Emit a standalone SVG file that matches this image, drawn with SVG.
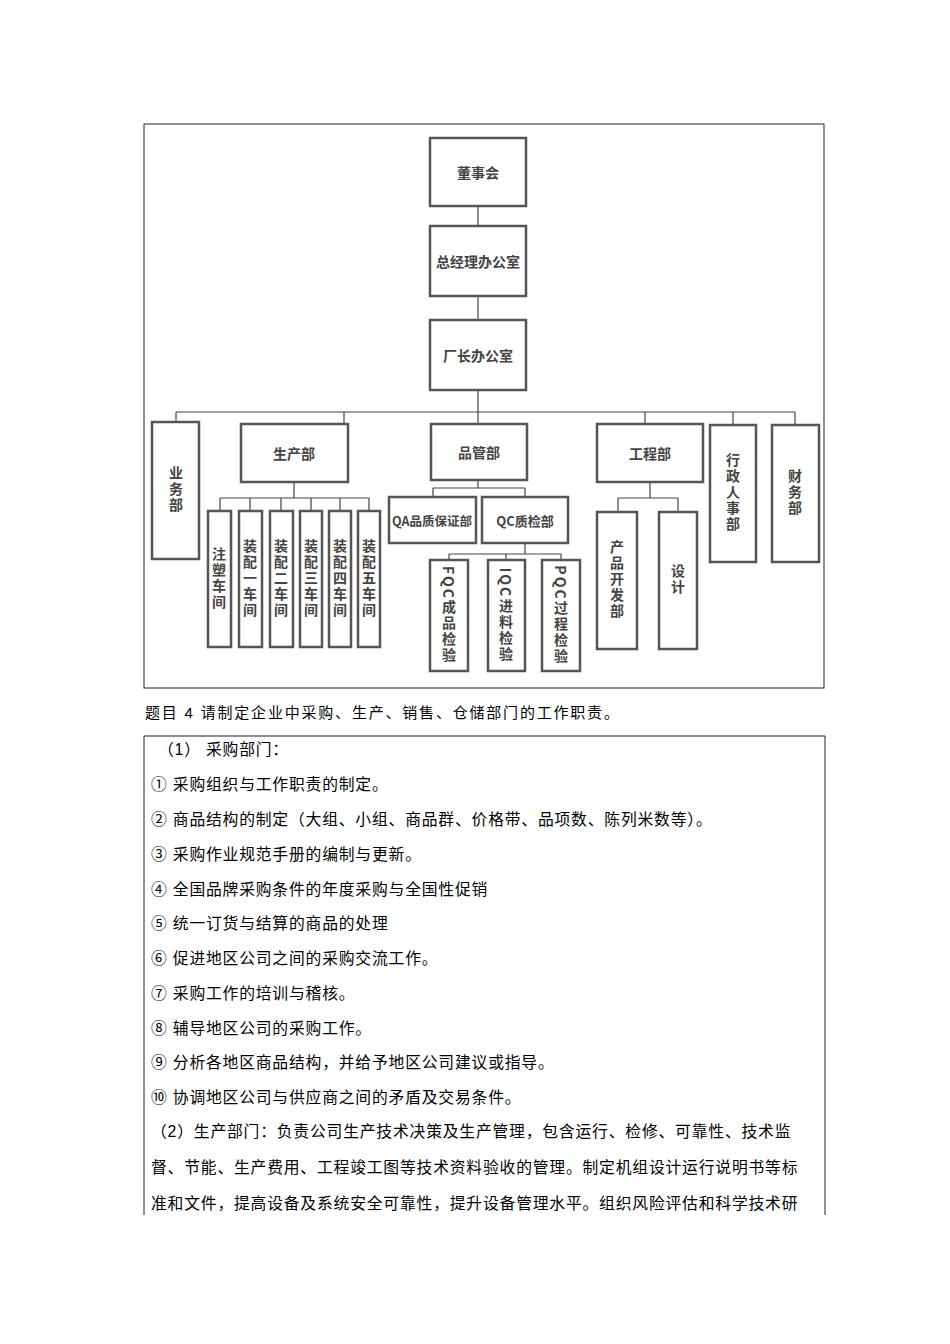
<svg xmlns="http://www.w3.org/2000/svg" width="950" height="1344" viewBox="0 0 950 1344">
<style>
.b{fill:#fff;stroke:#555;stroke-width:2.5}
.l{stroke:#444;stroke-width:1.2;fill:none}
.t{font-family:"Noto Sans CJK SC",sans-serif;font-size:14px;font-weight:bold;fill:#444;text-anchor:middle;dominant-baseline:central}
.v{writing-mode:vertical-rl;text-orientation:mixed;letter-spacing:2px}
.p{font-family:"Liberation Sans","Noto Sans CJK SC",sans-serif;font-size:15.8px;fill:#000;letter-spacing:0.8px}
</style>
<rect width="950" height="1344" fill="#fff"/>
<rect x="144" y="124" width="680" height="564" fill="none" stroke="#222" stroke-width="1"/>
<g id="connectors" class="l">
<path d="M478 206V226M478 296V320M478 390V412M176 412H795M176 412V422M344 412V424M478 412V424M645 412V424M733 412V425M795 412V425"/>
<path d="M294 482V498M220 498H369M220 498V511M250 498V511M281 498V511M311 498V511M340 498V511M369 498V511"/>
<path d="M478 480V488M433 488H525M433 488V497M525 488V497M525 543V554M449 554H561M449 554V560M506 554V560M561 554V560"/>
<path d="M650 482V498M618 498H678M618 498V512M678 498V512"/>
</g>
<g id="n1"><rect class="b" x="430" y="138" width="96" height="68"/><text class="t" x="478" y="172">董事会</text></g>
<g id="n2"><rect class="b" x="430" y="226" width="96" height="70"/><text class="t" x="478" y="261">总经理办公室</text></g>
<g id="n3"><rect class="b" x="430" y="320" width="96" height="70"/><text class="t" x="478" y="355">厂长办公室</text></g>
<g id="n4"><rect class="b" x="152" y="422" width="47" height="137"/><text class="t v" x="176" y="490">业务部</text></g>
<g id="n5"><rect class="b" x="241" y="424" width="107" height="58"/><text class="t" x="294" y="453">生产部</text></g>
<g id="n6"><rect class="b" x="431" y="424" width="96" height="56"/><text class="t" x="479" y="452">品管部</text></g>
<g id="n7"><rect class="b" x="597" y="424" width="106" height="58"/><text class="t" x="650" y="453">工程部</text></g>
<g id="n8"><rect class="b" x="710" y="425" width="46" height="137"/><text class="t v" x="733" y="493">行政人事部</text></g>
<g id="n9"><rect class="b" x="772" y="425" width="47" height="137"/><text class="t v" x="795" y="493">财务部</text></g>
<g id="n10"><rect class="b" x="208" y="511" width="23" height="136"/><text class="t v" x="219" y="579">注塑车间</text></g>
<g id="n11"><rect class="b" x="239" y="511" width="23" height="136"/><text class="t v" x="250" y="579">装配一车间</text></g>
<g id="n12"><rect class="b" x="270" y="511" width="23" height="136"/><text class="t v" x="281" y="579">装配二车间</text></g>
<g id="n13"><rect class="b" x="300" y="511" width="22" height="136"/><text class="t v" x="311" y="579">装配三车间</text></g>
<g id="n14"><rect class="b" x="329" y="511" width="22" height="136"/><text class="t v" x="340" y="579">装配四车间</text></g>
<g id="n15"><rect class="b" x="358" y="511" width="22" height="136"/><text class="t v" x="369" y="579">装配五车间</text></g>
<g id="n16"><rect class="b" x="389" y="497" width="87" height="46"/><text class="t" x="432" y="520" style="font-size:12.5px">QA品质保证部</text></g>
<g id="n17"><rect class="b" x="482" y="497" width="86" height="46"/><text class="t" x="525" y="520" style="font-size:13px">QC质检部</text></g>
<g id="n18"><rect class="b" x="430" y="560" width="38" height="111"/><text class="t v" x="449" y="615">FQC成品检验</text></g>
<g id="n19"><rect class="b" x="488" y="560" width="37" height="111"/><text class="t v" x="506" y="615">IQC进料检验</text></g>
<g id="n20"><rect class="b" x="542" y="560" width="38" height="111"/><text class="t v" x="561" y="615">PQC过程检验</text></g>
<g id="n21"><rect class="b" x="597" y="512" width="40" height="137"/><text class="t v" x="617" y="580">产品开发部</text></g>
<g id="n22"><rect class="b" x="659" y="512" width="38" height="137"/><text class="t v" x="678" y="580">设计</text></g>
<text class="p" x="145" y="718" style="font-size:15px;letter-spacing:1.8px">题目 4 请制定企业中采购、生产、销售、仓储部门的工作职责。</text>
<path d="M144 736H825V1215M144 736V1215" fill="none" stroke="#222" stroke-width="1"/>
<g class="p">
<text x="158" y="755">（1）   采购部门：</text>
<text x="151" y="790">① 采购组织与工作职责的制定。</text>
<text x="151" y="825">② 商品结构的制定（大组、小组、商品群、价格带、品项数、陈列米数等）。</text>
<text x="151" y="860">③ 采购作业规范手册的编制与更新。</text>
<text x="151" y="895">④ 全国品牌采购条件的年度采购与全国性促销</text>
<text x="151" y="929">⑤ 统一订货与结算的商品的处理</text>
<text x="151" y="964">⑥ 促进地区公司之间的采购交流工作。</text>
<text x="151" y="999">⑦ 采购工作的培训与稽核。</text>
<text x="151" y="1034">⑧ 辅导地区公司的采购工作。</text>
<text x="151" y="1068">⑨ 分析各地区商品结构，并给予地区公司建议或指导。</text>
<text x="151" y="1103">⑩ 协调地区公司与供应商之间的矛盾及交易条件。</text>
<text x="151" y="1137">（2）生产部门：负责公司生产技术决策及生产管理，包含运行、检修、可靠性、技术监</text>
<text x="151" y="1173">督、节能、生产费用、工程竣工图等技术资料验收的管理。制定机组设计运行说明书等标</text>
<text x="151" y="1209">准和文件，提高设备及系统安全可靠性，提升设备管理水平。组织风险评估和科学技术研</text>
</g>
</svg>
